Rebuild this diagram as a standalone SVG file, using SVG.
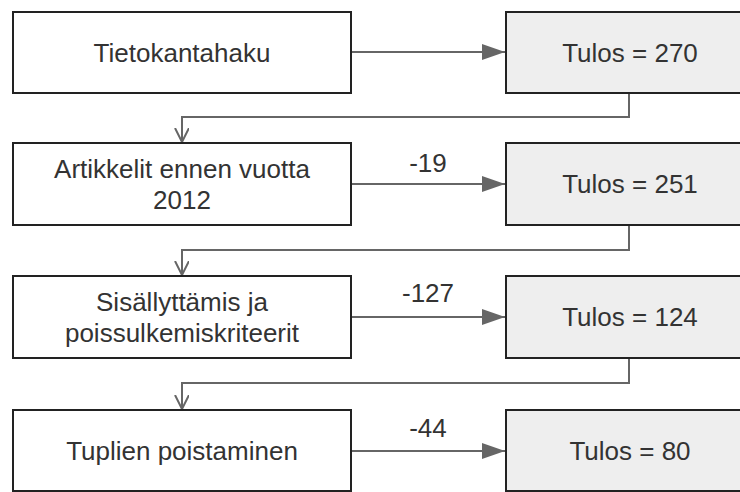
<svg xmlns="http://www.w3.org/2000/svg" width="740" height="492" viewBox="0 0 740 492">
<defs>
<marker id="block" markerWidth="24" markerHeight="16" refX="23" refY="8" orient="auto" markerUnits="userSpaceOnUse">
<path d="M0,0 L23,8 L0,16 Z" fill="#666"/>
</marker>
<marker id="open" markerWidth="16" markerHeight="16" refX="14" refY="7" orient="auto" markerUnits="userSpaceOnUse">
<path d="M0,0 L14,7 L0,14 M2,7 L14,7" fill="none" stroke="#666" stroke-width="2"/>
</marker>
</defs>
<style>
.box{fill:#fff;stroke:#222;stroke-width:2}
.res{fill:#eeeeee;stroke:#222;stroke-width:2}
.t{font-family:"Liberation Sans",Arial,sans-serif;font-size:26px;fill:#333;text-anchor:middle}
.c{fill:none;stroke:#666;stroke-width:2}
</style>
<rect width="740" height="492" fill="#fff"/>
<g id="connectors">
<path class="c" d="M351,52 L505,52" marker-end="url(#block)"/>
<path class="c" d="M351,184 L505,184" marker-end="url(#block)"/>
<path class="c" d="M351,317 L505,317" marker-end="url(#block)"/>
<path class="c" d="M351,451 L505,451" marker-end="url(#block)"/>
<path class="c" d="M629,94 L629,117 L182,117 L182,142" marker-end="url(#open)"/>
<path class="c" d="M629,226 L629,250 L182,250 L182,275" marker-end="url(#open)"/>
<path class="c" d="M629,358 L629,383 L182,383 L182,409" marker-end="url(#open)"/>
<text class="t" x="428" y="172">-19</text>
<text class="t" x="428" y="302">-127</text>
<text class="t" x="428" y="437">-44</text>
</g>
<g id="n1"><rect class="box" x="13" y="12" width="338" height="81"/><text class="t" x="182" y="62">Tietokantahaku</text></g>
<g id="r1"><rect class="res" x="506" y="12" width="246" height="81"/><text class="t" x="630" y="62">Tulos = 270</text></g>
<g id="n2"><rect class="box" x="13" y="143" width="338" height="82"/><text class="t" x="182" y="178">Artikkelit ennen vuotta</text><text class="t" x="182" y="209">2012</text></g>
<g id="r2"><rect class="res" x="506" y="143" width="246" height="82"/><text class="t" x="630" y="193">Tulos = 251</text></g>
<g id="n3"><rect class="box" x="13" y="276" width="338" height="82"/><text class="t" x="182" y="311">Sisällyttämis ja</text><text class="t" x="182" y="342">poissulkemiskriteerit</text></g>
<g id="r3"><rect class="res" x="506" y="276" width="246" height="82"/><text class="t" x="630" y="326">Tulos = 124</text></g>
<g id="n4"><rect class="box" x="13" y="410" width="338" height="81"/><text class="t" x="182" y="460">Tuplien poistaminen</text></g>
<g id="r4"><rect class="res" x="506" y="410" width="246" height="81"/><text class="t" x="630" y="460">Tulos = 80</text></g>
</svg>
